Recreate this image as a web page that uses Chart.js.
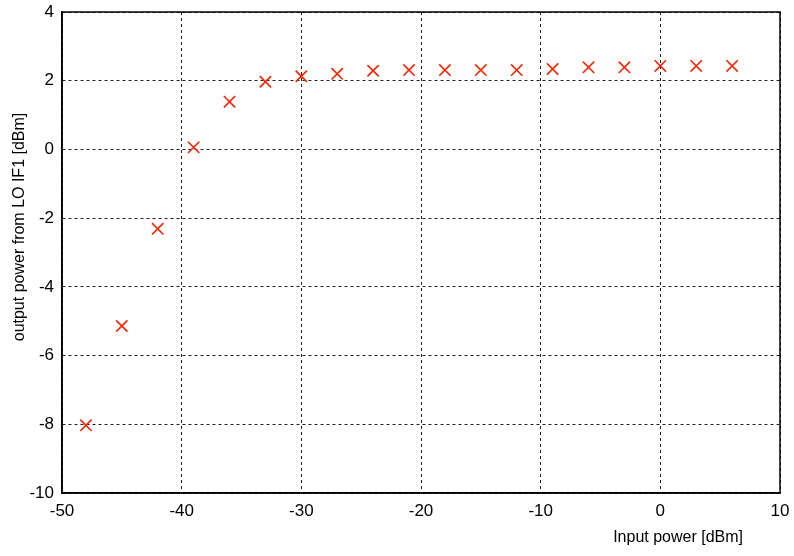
<!DOCTYPE html>
<html>
<head>
<meta charset="utf-8">
<script src="https://cdn.jsdelivr.net/npm/chart.js@4.4.0/dist/chart.umd.min.js"></script>
<style>
  html, body { margin: 0; padding: 0; background: #fff; }
  #wrap { width: 794px; height: 556px; }
</style>
</head>
<body>
<div id="wrap"><canvas id="chart"></canvas></div>
<script>
// measured points
const inputPower = [-48, -45, -42, -39, -36, -33, -30, -27, -24, -21, -18, -15, -12, -9, -6, -3, 0, 3, 6];
const outputPower = [-8.03, -5.14, -2.31, 0.06, 1.39, 1.97, 2.13, 2.2, 2.29, 2.31, 2.31, 2.31, 2.31, 2.34, 2.39, 2.39, 2.43, 2.43, 2.43];

const xTicks = [-50, -40, -30, -20, -10, 0, 10];
const yTicks = [-10, -8, -6, -4, -2, 0, 2, 4];

const xTitle = 'Input power [dBm]';
const yTitle = 'output power from LO IF1 [dBm]';

const font = '"Liberation Sans", Arial, sans-serif';

// frame + axis titles
const framePlugin = {
    id: 'frame',
    afterDraw(chart) {
        const { ctx, chartArea: a } = chart;
        ctx.save();
        ctx.strokeStyle = '#000';
        ctx.lineWidth = 1.5;
        ctx.strokeRect(a.left, a.top, a.right - a.left, a.bottom - a.top);
        ctx.fillStyle = '#000';
        ctx.font = '16px ' + font;
        ctx.textAlign = 'right';
        ctx.textBaseline = 'middle';
        ctx.fillText(xTitle, 743, 538);
        ctx.translate(20, 227);
        ctx.rotate(-Math.PI / 2);
        ctx.textAlign = 'center';
        ctx.fillText(yTitle, 0, 0);
        ctx.restore();
    }
};

const ctx = document.getElementById('chart').getContext('2d');
new Chart(ctx, {
    type: 'scatter',
    data: {
        datasets: [{
            data: inputPower.map((x, i) => ({ x: x, y: outputPower[i] })),
            pointStyle: 'crossRot',
            pointRadius: 8,
            pointHoverRadius: 8,
            borderColor: '#ff2200',
            borderWidth: 1.6,
            showLine: false
        }]
    },
    options: {
        responsive: true,
        maintainAspectRatio: false,
        animation: false,
        layout: { padding: { top: 12, right: 14, bottom: 0, left: 0 } },
        plugins: { legend: { display: false }, tooltip: { enabled: false } },
        scales: {
            x: {
                type: 'linear',
                min: -50, max: 10,
                afterBuildTicks: s => { s.ticks = xTicks.map(v => ({ value: v })); },
                afterFit: s => { s.height = 63; s.paddingLeft = 0; s.paddingRight = 0; },
                grid: { color: '#222', lineWidth: 1, drawTicks: false },
                border: { display: true, color: '#000', width: 1.5, dash: [3, 3] },
                ticks: { color: '#000', padding: 8, font: { family: font, size: 17 }, maxRotation: 0 }
            },
            y: {
                min: -10, max: 4,
                afterBuildTicks: s => { s.ticks = yTicks.map(v => ({ value: v })); },
                afterFit: s => { s.width = 62; s.paddingTop = 0; s.paddingBottom = 0; },
                grid: { color: '#222', lineWidth: 1, drawTicks: false },
                border: { display: true, color: '#000', width: 1.5, dash: [3, 3] },
                ticks: { color: '#000', padding: 8, font: { family: font, size: 17 } }
            }
        }
    },
    plugins: [framePlugin]
});
</script>
</body>
</html>
